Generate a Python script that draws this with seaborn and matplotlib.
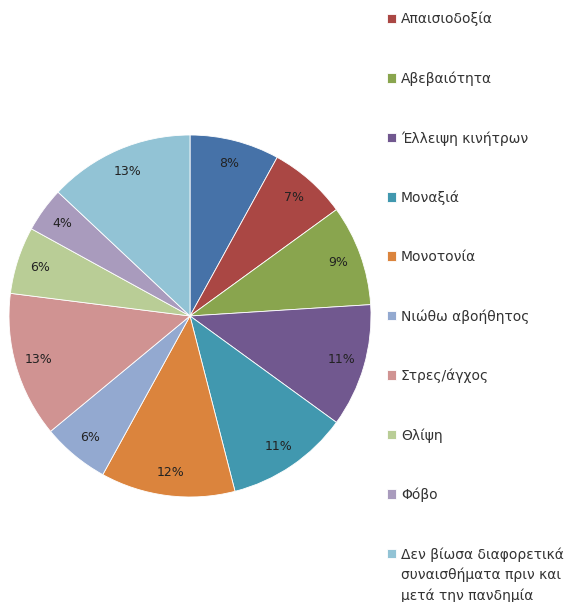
import matplotlib
matplotlib.use("Agg")
import matplotlib.pyplot as plt
import seaborn as sns

# ==========================================
# data
# ==========================================
categories = [
    "",  # first (blue) entry is cut off above the legend in the source
    "Απαισιοδοξία",
    "Αβεβαιότητα",
    "Έλλειψη κινήτρων",
    "Μοναξιά",
    "Μονοτονία",
    "Νιώθω αβοήθητος",
    "Στρες/άγχος",
    "Θλίψη",
    "Φόβο",
    "Δεν βίωσα διαφορετικά",
]
last_label_rest = "συναισθήματα πριν και\nμετά την πανδημία"
shares = [8, 7, 9, 11, 11, 12, 6, 13, 6, 4, 13]
colors = ["#4672A8", "#AA4744", "#89A54E", "#71588F", "#4198AF", "#DB843D",
          "#93A9D0", "#D09392", "#B9CD96", "#A99BBD", "#92C3D5"]

sns.set_theme(style="white")
plt.rcParams['font.family'] = ['DejaVu Sans']

fig = plt.figure(figsize=(5.78, 6.02), dpi=100)
ax = fig.add_axes([9 / 578, 1 - 497 / 602, 362 / 578, 362 / 602])

palette = sns.color_palette(colors)
wedges, texts, autotexts = ax.pie(
    shares, colors=palette, startangle=90, counterclock=False,
    autopct=lambda p: f"{p:.0f}%", pctdistance=0.87, radius=1,
    wedgeprops=dict(edgecolor="white", linewidth=0.6),
    textprops=dict(fontsize=9, color="#222222"),
)
ax.set_xlim(-1.0, 1.0)
ax.set_ylim(-1.0, 1.0)
ax.set_aspect("equal")
ax.axis("off")

leg = fig.legend(wedges[1:], categories[1:], loc="upper left",
                 bbox_to_anchor=(387 / 578, 1 - 12 / 602), frameon=False,
                 fontsize=10, labelspacing=3.24, handlelength=0.65, handleheight=0.65,
                 handletextpad=0.35, borderpad=0, borderaxespad=0, labelcolor="#333333")

# the last legend label wraps; keep the square next to its first line
fig.canvas.draw()
bb = leg.get_texts()[-1].get_window_extent().transformed(fig.transFigure.inverted())
fig.text(bb.x0, bb.y0 - 6 / 602, last_label_rest, ha="left", va="top",
         fontsize=10, color="#333333", linespacing=1.55)

fig.savefig("out.png", dpi=100)
